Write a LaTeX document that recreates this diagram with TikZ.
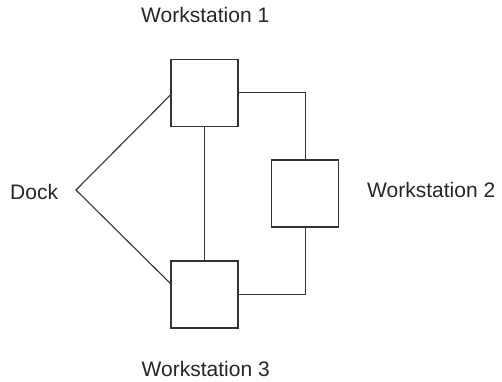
\documentclass[tikz,border=0pt]{standalone}
\usepackage{fontspec}
\setmainfont{Liberation Sans}
\definecolor{ink}{HTML}{262626}
\definecolor{linec}{HTML}{333333}
\begin{document}
\begin{tikzpicture}[x=1pt,y=-1pt,
  wsbox/.style={draw=linec,line width=1.2pt,minimum width=67pt,minimum height=67pt,inner sep=0pt},
  conn/.style={draw=linec,line width=1.1pt},
  lbl/.style={anchor=base west,inner sep=0pt,text=ink,font=\fontsize{21}{25}\selectfont}]
\useasboundingbox (0,0) rectangle (502,381);
\node[wsbox] (ws1) at (204.5,92.7) {};
\node[wsbox] (ws2) at (305.3,193.5) {};
\node[wsbox] (ws3) at (204.5,294.5) {};
\coordinate (apex) at (76,190);
\node[lbl] (l1) at (141,22.7) {Workstation 1};
\node[lbl] (l2) at (367,197.7) {Workstation 2};
\node[lbl] (l3) at (141.5,376) {Workstation 3};
\node[lbl] (dock) at (10,199.3) {Dock};
\draw[conn] ([yshift=-2.3pt]ws1.west) -- (apex) -- ([yshift=11pt]ws3.west);
\draw[conn] (ws1.south) -- (ws3.north);
\draw[conn] (ws1.east) -| (ws2.north);
\draw[conn] (ws2.south) |- (ws3.east);
\end{tikzpicture}
\end{document}
